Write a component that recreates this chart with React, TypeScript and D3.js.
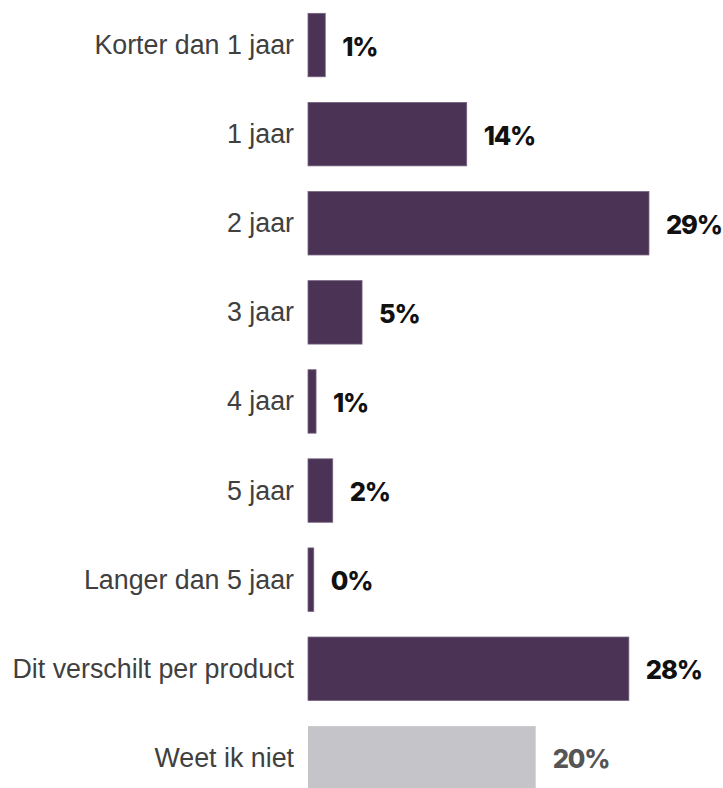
import React from "react";
import * as d3 from "d3";

const categories = [
  "Korter dan 1 jaar",
  "1 jaar",
  "2 jaar",
  "3 jaar",
  "4 jaar",
  "5 jaar",
  "Langer dan 5 jaar",
  "Dit verschilt per product",
  "Weet ik niet",
];
const values = [1.5, 13.8, 29.65, 4.7, 0.7, 2.15, 0.5, 27.9, 19.8];
const valueLabels = ["1%", "14%", "29%", "5%", "1%", "2%", "0%", "28%", "20%"];
const isNeutral = [false, false, false, false, false, false, false, false, true];

const W = 723;
const H = 788;
const X0 = 308;

export default function App() {
  const x = d3.scaleLinear().domain([0, 30]).range([0, 345]);
  const y = d3
    .scaleBand<number>()
    .domain(d3.range(categories.length))
    .range([0.5, 802.4])
    .paddingInner(0.288)
    .paddingOuter(0.144);
  return (
    <svg
      width={W}
      height={H}
      style={{ position: "absolute", left: 0, top: 0, display: "block", background: "#fff" }}
    >
      {categories.map((c, i) => {
        const yy = y(i)!;
        const bh = y.bandwidth();
        const cy = yy + bh / 2;
        const bw = x(values[i]);
        return (
          <g key={c}>
            <text
              x={294}
              y={cy}
              textAnchor="end"
              dominantBaseline="central"
              fontFamily="Liberation Sans, Arial, sans-serif"
              fontSize={26.8}
              fill="#404040"
            >
              {c}
            </text>
            <rect
              x={X0}
              y={yy}
              width={bw}
              height={bh}
              fill={isNeutral[i] ? "#c5c4c9" : "#4b3356"}
              stroke={isNeutral[i] ? "none" : "#75637f"}
              strokeWidth={0.8}
            />
            <text
              x={X0 + bw + 17}
              y={cy + 1}
              dominantBaseline="central"
              fontFamily="Inter, sans-serif"
              fontWeight={800}
              fontSize={25.5}
              letterSpacing={-1.2}
              fill={isNeutral[i] ? "#555555" : "#111111"}
            >
              {valueLabels[i]}
            </text>
          </g>
        );
      })}
    </svg>
  );
}
